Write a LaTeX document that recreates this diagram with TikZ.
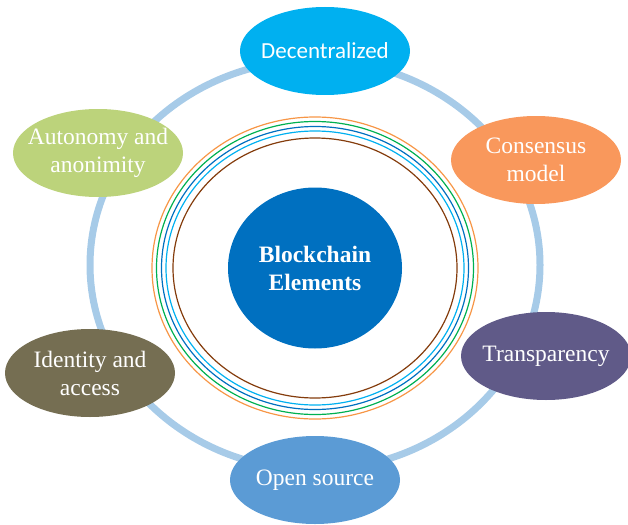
\documentclass[tikz,border=0pt]{standalone}
\usepackage{fontspec}
\setmainfont{Liberation Serif}
\newfontfamily\calibrifont{Carlito}
\usetikzlibrary{shapes.geometric}

\definecolor{ringblue}{HTML}{A7CBE8}
\definecolor{decblue}{HTML}{00B0F0}
\definecolor{consorange}{HTML}{F9985C}
\definecolor{transpurple}{HTML}{605A88}
\definecolor{openblue}{HTML}{5B9BD5}
\definecolor{identolive}{HTML}{756E52}
\definecolor{autogreen}{HTML}{BCD37B}
\definecolor{coreblue}{HTML}{0070C0}
\definecolor{rorange}{HTML}{F79646}
\definecolor{rgreen}{HTML}{00B050}
\definecolor{rdblue}{HTML}{0070C0}
\definecolor{rcyan}{HTML}{00B0F0}
\definecolor{rbrown}{HTML}{843C0C}

\tikzset{
  elem/.style={ellipse, inner sep=-15pt, minimum width=170pt, minimum height=88pt,
    text=white, align=center, font=\fontsize{23.5}{28}\selectfont},
  core/.style={ellipse, inner sep=0pt, minimum width=174pt, minimum height=161pt,
    fill=coreblue, text=white, align=center, font=\fontsize{23.5}{28}\selectfont\bfseries},
}

\begin{document}
\begin{tikzpicture}[x=1pt, y=-1pt]
  \useasboundingbox (0,0) rectangle (628,524);

  % Outer ring joining the elements
  \draw[ringblue, line width=7pt] (315,265) ellipse [x radius=225pt, y radius=205pt];

  % Concentric rings round the core
  \foreach \rx/\ry/\col in {163/151/rorange, 158.5/146.5/rgreen, 153.5/141.5/rdblue,
                             149/137/rcyan, 142/130/rbrown} {
    \draw[\col, line width=1.2pt] (315,268) ellipse [x radius=\rx pt, y radius=\ry pt];
  }

  % Core
  \node[core] (core) at (315,268) {Blockchain\\Elements};

  % Elements
  \node[elem, fill=decblue, font=\calibrifont\fontsize{23}{28}\selectfont] (dec) at (325,51) {Decentralized};
  \node[elem, fill=consorange] (cons) at (536,160) {Consensus\\model};
  \node[elem, fill=transpurple] (trans) at (546,356) {Transparency};
  \node[elem, fill=openblue] (open) at (315,480) {Open source};
  \node[elem, fill=identolive] (ident) at (90,373) {Identity and\\access};
  \node[elem, fill=autogreen] (auto) at (98,153) {Autonomy and\\anonimity};
\end{tikzpicture}
\end{document}
